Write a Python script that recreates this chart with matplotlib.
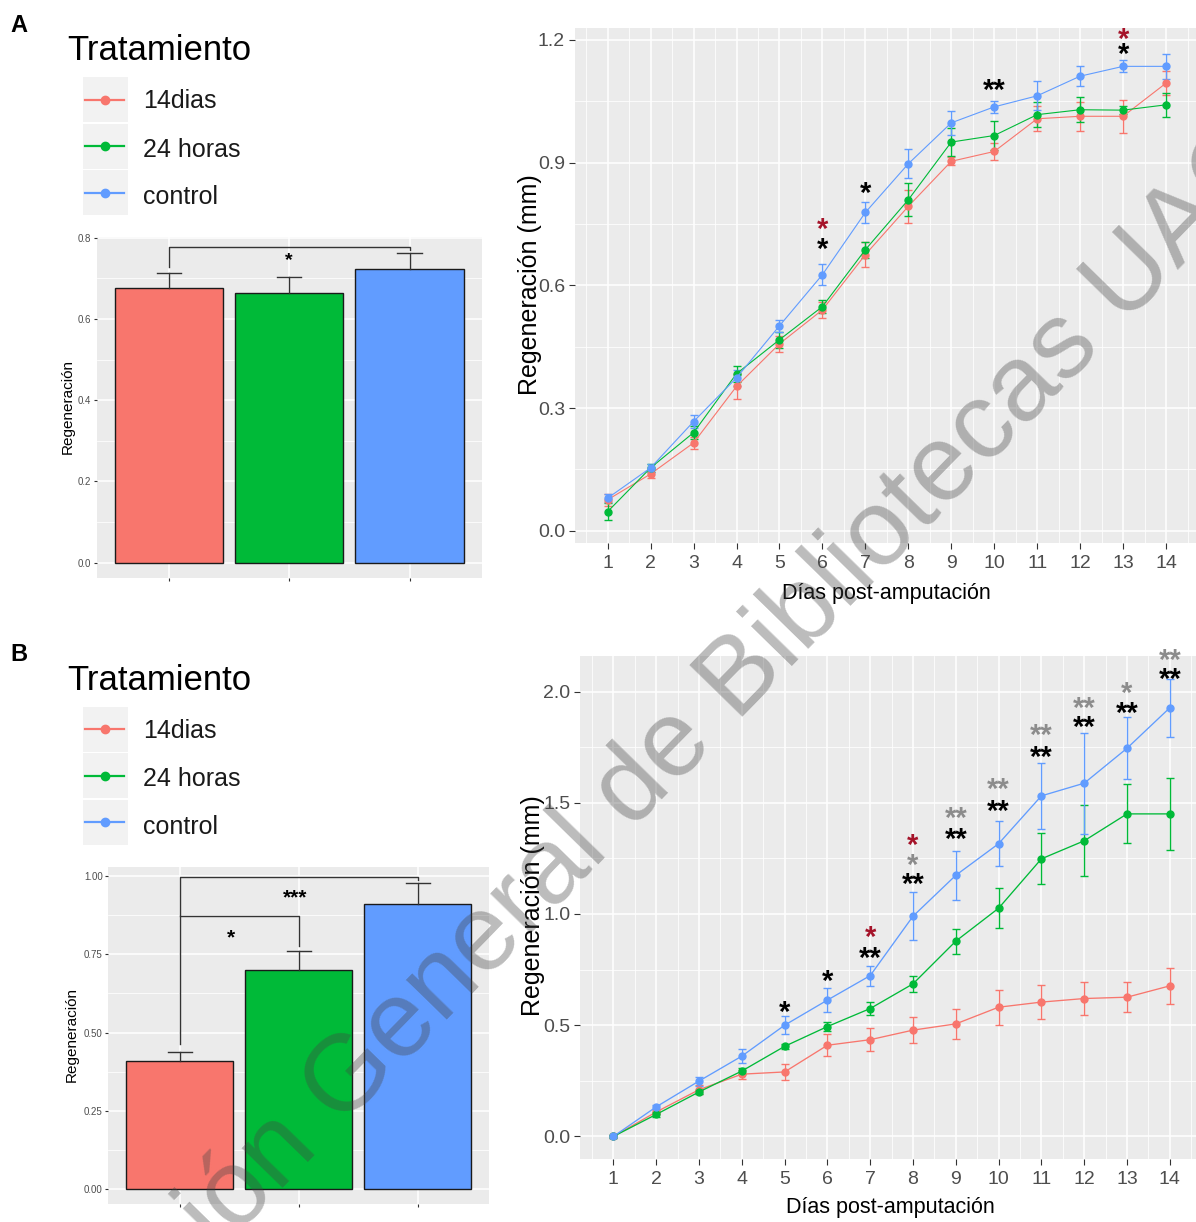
import matplotlib
matplotlib.use('Agg')
import matplotlib.pyplot as plt
from matplotlib.patches import Rectangle
from matplotlib.ticker import MultipleLocator, FixedLocator, FormatStrFormatter

NARROW = ['Liberation Sans Narrow', 'Liberation Sans', 'DejaVu Sans']
REG = ['Liberation Sans', 'DejaVu Sans']
plt.rcParams['font.family'] = NARROW

# ---------------- data ----------------
groups = ['14dias', '24 horas', 'control']
colors = ['#F8766D', '#00BA38', '#619CFF']
days = list(range(1, 15))

# Panel A (line)
A_14d = [0.076, 0.139, 0.215, 0.353, 0.457, 0.540, 0.675, 0.793, 0.903, 0.927, 1.007, 1.013, 1.013, 1.094]
A_14d_err = [0.015, 0.01, 0.015, 0.03, 0.02, 0.02, 0.03, 0.04, 0.01, 0.02, 0.03, 0.035, 0.04, 0.03]
A_24h = [0.047, 0.154, 0.240, 0.384, 0.467, 0.548, 0.687, 0.809, 0.950, 0.966, 1.017, 1.029, 1.028, 1.041]
A_24h_err = [0.02, 0.01, 0.015, 0.02, 0.02, 0.015, 0.02, 0.04, 0.035, 0.035, 0.03, 0.03, 0.01, 0.03]
A_ctrl = [0.080, 0.154, 0.267, 0.374, 0.501, 0.626, 0.778, 0.897, 0.997, 1.036, 1.063, 1.111, 1.135, 1.135]
A_ctrl_err = [0.01, 0.01, 0.015, 0.02, 0.015, 0.025, 0.025, 0.035, 0.03, 0.015, 0.035, 0.025, 0.015, 0.03]

# Panel B (line)
B_14d = [0.0, 0.11, 0.21, 0.28, 0.29, 0.41, 0.435, 0.478, 0.506, 0.581, 0.604, 0.62, 0.626, 0.677]
B_14d_err = [0.005, 0.01, 0.02, 0.02, 0.034, 0.05, 0.052, 0.06, 0.067, 0.079, 0.075, 0.075, 0.067, 0.082]
B_24h = [0.0, 0.099, 0.2, 0.294, 0.405, 0.494, 0.575, 0.686, 0.878, 1.026, 1.248, 1.329, 1.45, 1.45]
B_24h_err = [0.005, 0.01, 0.01, 0.015, 0.01, 0.022, 0.028, 0.037, 0.056, 0.09, 0.115, 0.159, 0.133, 0.163]
B_ctrl = [0.0, 0.133, 0.249, 0.361, 0.50, 0.613, 0.723, 0.99, 1.174, 1.316, 1.531, 1.588, 1.745, 1.927]
B_ctrl_err = [0.005, 0.01, 0.02, 0.03, 0.04, 0.055, 0.045, 0.109, 0.109, 0.1, 0.147, 0.227, 0.14, 0.13]

# significance marks
RED, GREY = '#A5142A', '#8C8C8C'
A_star_day = [6, 6, 7, 10, 13, 13]
A_star_y = [0.707, 0.756, 0.844, 1.094, 1.183, 1.22]
A_star_txt = ['*', '*', '*', '**', '*', '*']
A_star_col = ['k', RED, 'k', 'k', 'k', RED]

B_star_day = [5, 6, 7, 7, 8, 8, 8, 9, 9, 10, 10, 11, 11, 12, 12, 13, 13, 14, 14]
B_star_y = [0.59, 0.73, 0.833, 0.93, 1.167, 1.25, 1.34, 1.368, 1.462, 1.494, 1.594,
            1.739, 1.837, 1.874, 1.96, 1.937, 2.027, 2.09, 2.174]
B_star_txt = ['*', '*', '**', '*', '**', '*', '*', '**', '**', '**', '**',
              '**', '**', '**', '**', '**', '*', '**', '**']
B_star_col = ['k', 'k', 'k', RED, 'k', GREY, RED, 'k', GREY, 'k', GREY,
              'k', GREY, 'k', GREY, 'k', GREY, 'k', GREY]

# bar panels
A_bar = [0.676, 0.665, 0.723]
A_bar_err = [0.038, 0.038, 0.040]
B_bar = [0.41, 0.70, 0.91]
B_bar_err = [0.028, 0.06, 0.068]

# ---------------- figure ----------------
W, H = 1196, 1222
fig = plt.figure(figsize=(W / 100, H / 100), dpi=100)
fig.patch.set_facecolor('white')


def add_ax(l, t, r, b, z=1):
    return fig.add_axes([l / W, 1 - b / H, (r - l) / W, (b - t) / H], zorder=z)


def gg_style(ax, fs, tlen):
    ax.set_facecolor('#EBEBEB')
    for s in ax.spines.values():
        s.set_visible(False)
    ax.grid(which='major', color='white', lw=1.1)
    ax.grid(which='minor', color='white', lw=0.55)
    ax.set_axisbelow(True)
    ax.tick_params(which='major', length=tlen, width=0.8, color='#333333',
                   labelcolor='#4D4D4D', labelsize=fs, pad=3)
    ax.tick_params(which='minor', length=0)


def line_panel(ax, series, errs, xlim, ylim, ymaj, fmt, lw):
    for y, e, c in zip(series, errs, colors):
        ax.errorbar(days, y, yerr=e, color=c, lw=lw, marker='o', ms=5,
                    capsize=3, elinewidth=1.0, capthick=1.0)
    ax.set_xlim(*xlim)
    ax.set_ylim(*ylim)
    ax.xaxis.set_major_locator(FixedLocator(days))
    ax.xaxis.set_minor_locator(MultipleLocator(0.5))
    ax.yaxis.set_major_locator(MultipleLocator(ymaj))
    ax.yaxis.set_minor_locator(MultipleLocator(ymaj / 2))
    ax.yaxis.set_major_formatter(FormatStrFormatter(fmt))
    gg_style(ax, 14, 4)
    ax.tick_params(axis='x', pad=5)


def stars(ax, d, y, s, c, fs):
    ax.annotate(s, (d, y), xytext=(0, -0.55 * fs), textcoords='offset points',
                ha='center', va='baseline', fontsize=fs, color=c,
                fontweight='bold', family=REG, annotation_clip=False)


def bar_panel(ax, vals, errs, ylim, ymaj, fmt):
    x = [1, 2, 3]
    ax.bar(x, vals, width=0.9, color=colors, edgecolor='#1A1A1A', lw=1.0, zorder=2)
    for xi, v, e in zip(x, vals, errs):
        ax.plot([xi, xi], [v, v + e], color='#333333', lw=1.0, zorder=3)
        ax.plot([xi - 0.1, xi + 0.1], [v + e, v + e], color='#333333', lw=1.0, zorder=3)
    ax.set_xlim(0.4, 3.6)
    ax.set_ylim(*ylim)
    ax.set_xticks(x)
    ax.set_xticklabels([])
    ax.yaxis.set_major_locator(MultipleLocator(ymaj))
    ax.yaxis.set_minor_locator(MultipleLocator(ymaj / 2))
    ax.yaxis.set_major_formatter(FormatStrFormatter(fmt))
    gg_style(ax, 7, 2.5)
    ax.tick_params(pad=1.5)


# Panel A line
axA = add_ax(574.6, 28.3, 1199.1, 542.7)
line_panel(axA, [A_14d, A_24h, A_ctrl], [A_14d_err, A_24h_err, A_ctrl_err],
           (0.23, 14.77), (-0.029, 1.228), 0.3, '%.1f', 0.8)
for d, y, s, c in zip(A_star_day, A_star_y, A_star_txt, A_star_col):
    stars(axA, d, y, s, c, 21)

# Panel B line
axB = add_ax(580, 655.5, 1203.2, 1158.7)
line_panel(axB, [B_14d, B_24h, B_ctrl], [B_14d_err, B_24h_err, B_ctrl_err],
           (0.22, 14.78), (-0.10, 2.162), 0.5, '%.1f', 0.95)
for d, y, s, c in zip(B_star_day, B_star_y, B_star_txt, B_star_col):
    stars(axB, d, y, s, c, 21)

# Panel A bar
axAb = add_ax(96.7, 236.7, 481.7, 577.7)
bar_panel(axAb, A_bar, A_bar_err, (-0.037, 0.8025), 0.2, '%.1f')
axAb.plot([1, 1, 3, 3], [0.729, 0.777, 0.777, 0.770], color='#333333', lw=1.0, zorder=4)
stars(axAb, 2, 0.758, '*', 'k', 14)

# Panel B bar
axBb = add_ax(108.3, 866.7, 489.0, 1204)
bar_panel(axBb, B_bar, B_bar_err, (-0.047, 1.0297), 0.25, '%.2f')
axBb.plot([1, 1, 3, 3], [0.465, 0.998, 0.998, 0.987], color='#333333', lw=1.0, zorder=4)
axBb.plot([1, 2, 2], [0.872, 0.872, 0.777], color='#333333', lw=1.0, zorder=4)
stars(axBb, 1.97, 0.95, '***', 'k', 15)
stars(axBb, 1.43, 0.822, '*', 'k', 15)

# ---------------- overlay: titles, legends, letters, watermark ----------------
ov = fig.add_axes([0, 0, 1, 1], zorder=20)
ov.set_xlim(0, W)
ov.set_ylim(H, 0)
ov.axis('off')
ov.patch.set_alpha(0)

# axis titles
ov.text(530, 285, 'Regeneración (mm)', rotation=90, ha='center', va='center',
        fontsize=18, family=REG, color='black')
ov.text(886, 593, 'Días post-amputación', ha='center', va='center',
        fontsize=15.5, color='black')
ov.text(533, 906, 'Regeneración (mm)', rotation=90, ha='center', va='center',
        fontsize=18, family=REG, color='black')
ov.text(890, 1208, 'Días post-amputación', ha='center', va='center',
        fontsize=15.5, color='black')
ov.text(68, 406, 'Regeneración', rotation=90, ha='center', va='center',
        fontsize=11, family=REG, color='black')
ov.text(72, 1035, 'Regeneración', rotation=90, ha='center', va='center',
        fontsize=11, family=REG, color='black')

# panel letters
ov.text(10, 32, 'A', fontsize=17, fontweight='bold', family=REG, color='black')
ov.text(10, 661, 'B', fontsize=17, fontweight='bold', family=REG, color='black')

# legends
for dy in (0, 629.5):
    ov.text(67, 60 + dy, 'Tratamiento', fontsize=25, family=REG, color='black',
            ha='left', va='baseline')
    box_tops = [77, 123.5, 170]
    label_base = [108.3, 156.7, 204]
    for bt, lb, name, c in zip(box_tops, label_base, groups, colors):
        ov.add_patch(Rectangle((83, bt + dy), 45, 45, color='#F2F2F2', lw=0))
        yc = bt + dy + 22.5
        ov.plot([85, 124], [yc, yc], color=c, lw=1.6)
        ov.plot([104.5], [yc], 'o', color=c, ms=6)
        ov.text(143, lb + dy, name, fontsize=18, family=REG, color='#1A1A1A',
                ha='left', va='baseline')

# watermark
ov.text(646, 816, 'Dirección General de Bibliotecas UAQ', rotation=45.7,
        rotation_mode='anchor', ha='center', va='baseline', fontsize=78,
        family=REG, color='#444444', alpha=0.36, zorder=50)

fig.savefig('out.png', dpi=100, facecolor='white')
